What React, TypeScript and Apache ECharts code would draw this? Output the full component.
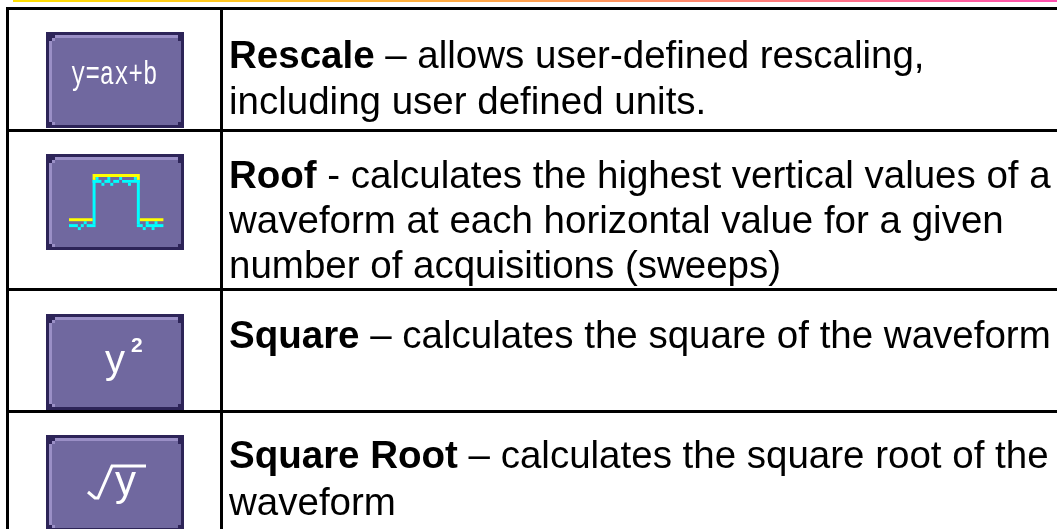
import React, { useEffect, useRef } from "react";
import * as echarts from "echarts";

const FONT = '"Liberation Sans", Arial, sans-serif';
const FONT_SIZE = 38.5;
const rowLabels = ["Rescale", "Roof", "Square", "Square Root"];
const rowSuffix = [
  " – allows user-defined rescaling,",
  " - calculates the highest vertical values of a",
  " – calculates the square of the waveform",
  " – calculates the square root of the",
];
const rowContinuation = [
  ["including user defined units."],
  ["waveform at each horizontal value for a given", "number of acquisitions (sweeps)"],
  [],
  ["waveform"],
];
const firstLineBaselines = [67.7, 188, 348, 468];
const continuationBaselines = [[113.3], [233, 278], [], [515]];
const buttonTops = [32, 154, 314, 435];
const rowLines = [129, 288, 410];

// Roof icon: runs of [row, firstCol, lastCol] on the icon's pixel grid
const roofYellow = [[0, 8, 23], [1, 8, 8], [1, 23, 23], [15, 0, 7], [15, 24, 31]];
const roofCyan = [
  [1, 9, 9], [1, 13, 13], [1, 17, 17], [1, 22, 22],
  [2, 8, 10], [2, 12, 13], [2, 15, 16], [2, 18, 23],
  [3, 11, 11], [3, 14, 14], [3, 20, 20],
  [16, 5, 5], [16, 26, 26], [16, 29, 29],
  [17, 0, 2], [17, 4, 4], [17, 6, 8], [17, 23, 24], [17, 26, 31],
  [18, 3, 3], [18, 25, 25], [18, 28, 28],
];
const roofWalls = [8, 23];

const DARK = "#2d2458";
const LIGHT = "#9a8fc6";
const BODY = "#70689f";
// distance from a top-aligned text's y to its baseline, in em
const BASELINE_EM = 0.847;

const box = (x: number, y: number, width: number, height: number, fill: string) => ({
  type: "rect",
  shape: { x, y, width, height },
  style: { fill },
});

function button(x: number, y: number) {
  const w = 138, h = 96;
  return [
    box(x, y, w, h, DARK),
    box(x + 6, y + 6, w - 9, h - 9, BODY),
    box(x + 9, y + 3, w - 15, 3, LIGHT),
    box(x + 3, y + 9, 3, h - 15, LIGHT),
    box(x + 6, y + 6, 3, 3, LIGHT),
    box(x + 6, y + h - 6, 3, 3, LIGHT),
    box(x + w - 6, y + 6, 3, 3, DARK),
    box(x + w - 6, y + h - 6, 3, 3, DARK),
    box(x + 3, y + h - 6, 3, 3, DARK),
  ];
}

const iconText = (
  text: string, x: number, baseline: number, fontSize: number,
  scaleX = 1, scaleY = 1, weight = "normal", family = "Liberation Sans"
) => ({
  type: "text",
  x,
  y: baseline - BASELINE_EM * fontSize * scaleY,
  scaleX,
  scaleY,
  style: { text, fill: "#ffffff", font: `${weight} ${fontSize}px "${family}"` },
});

export default function App() {
  const ref = useRef<HTMLDivElement>(null);
  useEffect(() => {
    const chart = echarts.init(ref.current!, undefined, { renderer: "svg" });
    const elements: any[] = [];
    elements.push({
      type: "rect",
      shape: { x: 13, y: 0, width: 1044, height: 2 },
      style: {
        fill: new echarts.graphic.LinearGradient(0, 0, 1, 0, [
          { offset: 0, color: "#ffe000" },
          { offset: 0.5, color: "#ffa050" },
          { offset: 1, color: "#ff50b0" },
        ]),
      },
    });
    // table rules
    elements.push(box(6, 7, 1051, 3, "#000"));
    elements.push(box(6, 7, 3, 522, "#000"));
    elements.push(box(220, 7, 3, 522, "#000"));
    rowLines.forEach((y) => elements.push(box(6, y, 1051, 3, "#000")));
    // buttons
    buttonTops.forEach((y) => elements.push(...button(46, y)));
    // icons
    elements.push(iconText("y=ax+b", 71, 87, 24, 1, 1.4, "normal", "Liberation Mono"));
    const px = 2.95;
    const ox = 69, oy = 174;
    const run = (r: number[], c: string) =>
      box(ox + r[1] * px, oy + r[0] * px, (r[2] - r[1] + 1) * px, px, c);
    roofWalls.forEach((c) =>
      elements.push(box(ox + c * px, oy + 2 * px, px, 15 * px, "#00ffff"))
    );
    roofCyan.forEach((r) => elements.push(run(r, "#00ffff")));
    roofYellow.forEach((r) => elements.push(run(r, "#ffff00")));
    elements.push(iconText("y", 105, 373, 40));
    elements.push(iconText("2", 131, 352, 21, 1, 1, "bold"));
    elements.push({
      type: "polyline",
      shape: { points: [[88, 492], [95, 498], [98, 498], [112, 466], [146, 466]] },
      style: { stroke: "#fff", lineWidth: 3, fill: "none" },
    });
    elements.push(iconText("y", 115, 495, 42));
    // texts
    const toTop = BASELINE_EM * FONT_SIZE;
    rowLabels.forEach((label, i) => {
      elements.push({
        type: "text",
        x: 229,
        y: firstLineBaselines[i] - toTop,
        style: {
          text: `{b|${label}}{n|${rowSuffix[i]}}`,
          rich: {
            b: { font: `bold ${FONT_SIZE}px ${FONT}`, fill: "#000" },
            n: { font: `${FONT_SIZE}px ${FONT}`, fill: "#000" },
          },
        },
      });
      rowContinuation[i].forEach((t, k) =>
        elements.push({
          type: "text",
          x: 229,
          y: continuationBaselines[i][k] - toTop,
          style: { text: t, font: `${FONT_SIZE}px ${FONT}`, fill: "#000" },
        })
      );
    });
    chart.setOption({ animation: false, graphic: { elements } });
    return () => chart.dispose();
  }, []);
  return <div ref={ref} style={{ position: "fixed", left: 0, top: 0, width: 1057, height: 529 }} />;
}
